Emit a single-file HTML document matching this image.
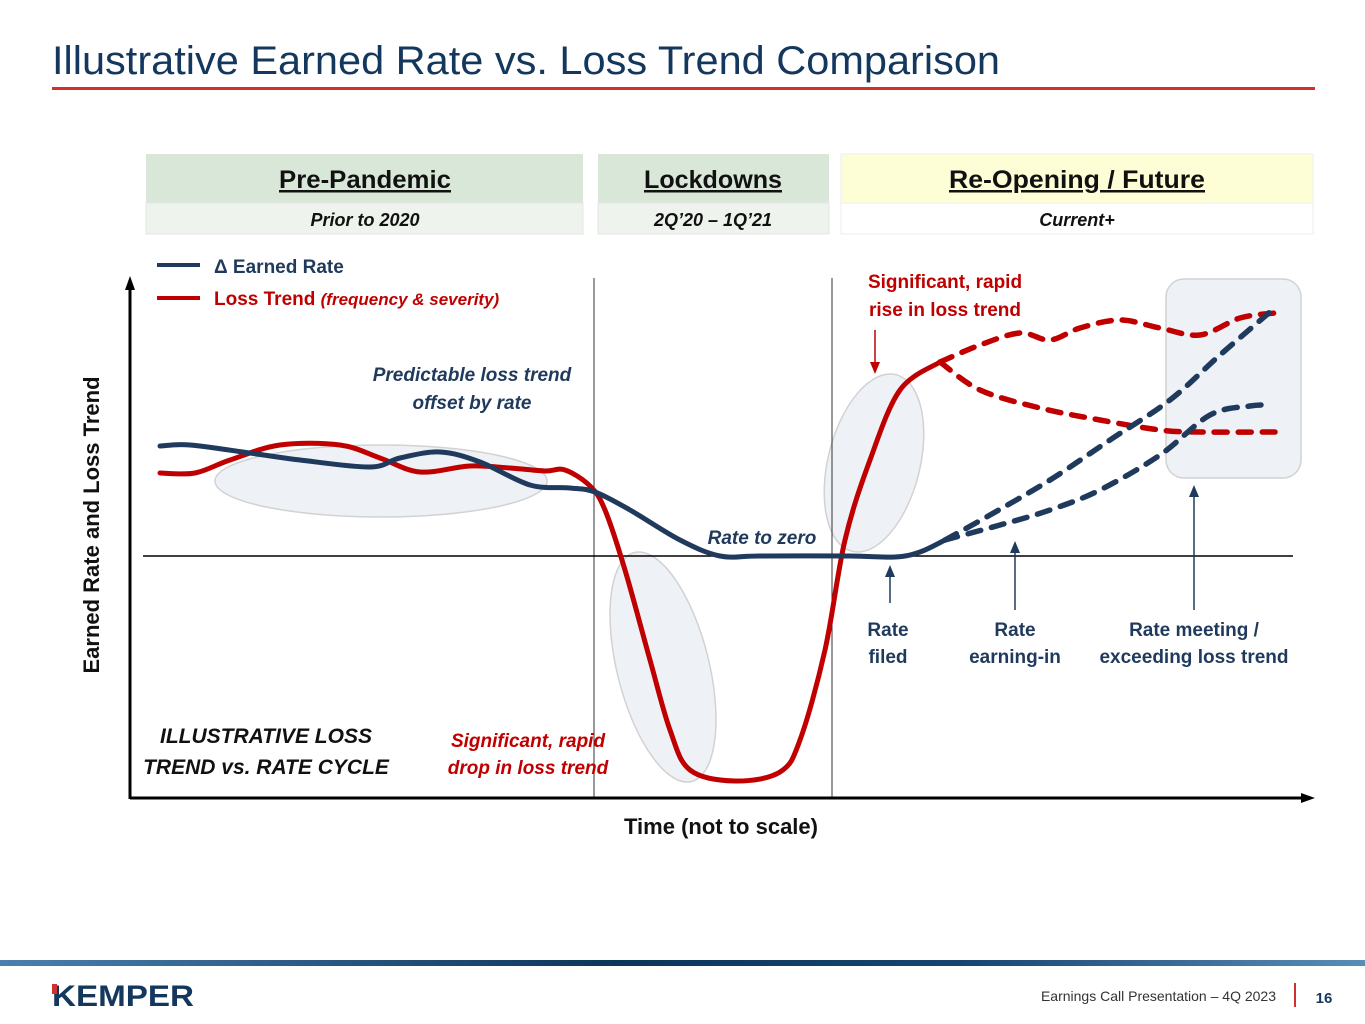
<!DOCTYPE html>
<html><head><meta charset="utf-8"><style>
body{margin:0;background:#fff;}
svg{display:block;font-family:"Liberation Sans",sans-serif;}
</style></head><body>
<svg id="chart" width="1365" height="1024" viewBox="0 0 1365 1024">
<defs>
<linearGradient id="fg" x1="0" x2="1"><stop offset="0" stop-color="#4a7fae"/><stop offset="0.45" stop-color="#0d3559"/><stop offset="0.7" stop-color="#15456f"/><stop offset="1" stop-color="#5a8cb8"/></linearGradient>
<marker id="ab" markerUnits="userSpaceOnUse" markerWidth="12" markerHeight="12" refX="9" refY="6" orient="auto"><path d="M0,1 L12,6 L0,11 z" fill="#1f3a5c"/></marker>
<marker id="ar" markerUnits="userSpaceOnUse" markerWidth="12" markerHeight="12" refX="9" refY="6" orient="auto"><path d="M0,1 L12,6 L0,11 z" fill="#c00000"/></marker>
<marker id="ak" markerUnits="userSpaceOnUse" markerWidth="14" markerHeight="12" refX="10" refY="6" orient="auto"><path d="M0,1 L14,6 L0,11 z" fill="#000"/></marker>
</defs>
<text x="52" y="74" font-size="40" fill="#14375e" textLength="948" lengthAdjust="spacingAndGlyphs">Illustrative Earned Rate vs. Loss Trend Comparison</text>
<rect x="52" y="87" width="1263" height="3" fill="#d0312d"/>

<g>
<rect x="146" y="154" width="437" height="49" fill="#d9e7d8"/>
<rect x="146" y="203" width="437" height="31" fill="#eef4ed" stroke="#e4e4e4"/>
<rect x="598" y="154" width="231" height="49" fill="#d9e7d8"/>
<rect x="598" y="203" width="231" height="31" fill="#eef4ed" stroke="#e4e4e4"/>
<rect x="841" y="154" width="472" height="49" fill="#fdfdd6" stroke="#eee"/>
<rect x="841" y="203" width="472" height="31" fill="#fff" stroke="#eee"/>
<g font-weight="bold" font-size="25" fill="#111" text-anchor="middle" text-decoration="underline">
<text x="365" y="188" textLength="172" lengthAdjust="spacingAndGlyphs">Pre-Pandemic</text>
<text x="713" y="188" textLength="138" lengthAdjust="spacingAndGlyphs">Lockdowns</text>
<text x="1077" y="188" textLength="256" lengthAdjust="spacingAndGlyphs">Re-Opening / Future</text>
</g>
<g font-weight="bold" font-style="italic" font-size="18" fill="#111" text-anchor="middle">
<text x="365" y="226">Prior to 2020</text>
<text x="713" y="226">2Q’20 – 1Q’21</text>
<text x="1077" y="226">Current+</text>
</g>
</g>

<g>
<line x1="157" y1="265" x2="200" y2="265" stroke="#1f3a5c" stroke-width="4"/>
<text x="214" y="273" font-size="19" font-weight="bold" fill="#1f3a5c">Δ Earned Rate</text>
<line x1="157" y1="298" x2="200" y2="298" stroke="#c00000" stroke-width="4"/>
<text x="214" y="305" font-size="19" font-weight="bold" fill="#c00000">Loss Trend <tspan font-style="italic" font-size="17">(frequency &amp; severity)</tspan></text>
</g>

<g>
<ellipse cx="381" cy="481" rx="166" ry="36" fill="#eef1f5" stroke="#d2d2d2" stroke-width="1.5"/>
<ellipse cx="663" cy="667" rx="46" ry="118" transform="rotate(-14 663 667)" fill="#eef1f5" stroke="#d2d2d2" stroke-width="1.5"/>
<ellipse cx="874" cy="463" rx="46" ry="91" transform="rotate(14 874 463)" fill="#eef1f5" stroke="#d2d2d2" stroke-width="1.5"/>
<rect x="1166" y="279" width="135" height="199" rx="18" fill="#eef1f5" stroke="#d2d2d2" stroke-width="1.5"/>
</g>

<g>
<line x1="594" y1="278" x2="594" y2="798" stroke="#333" stroke-width="1"/>
<line x1="832" y1="278" x2="832" y2="798" stroke="#333" stroke-width="1"/>
<line x1="143" y1="556" x2="1293" y2="556" stroke="#000" stroke-width="1.5"/>
<line x1="130" y1="799" x2="130" y2="280" stroke="#000" stroke-width="3" marker-end="url(#ak)"/>
<line x1="130" y1="798" x2="1311" y2="798" stroke="#000" stroke-width="3" marker-end="url(#ak)"/>
<text x="99" y="525" font-size="22" font-weight="bold" fill="#111" text-anchor="middle" transform="rotate(-90 99 525)">Earned Rate and Loss Trend</text>
<text x="721" y="834" font-size="22" font-weight="bold" fill="#111" text-anchor="middle">Time (not to scale)</text>
</g>

<g id="series"></g>

<g font-weight="bold" font-size="19" text-anchor="middle">
<text x="472" y="381" fill="#1f3a5c" font-style="italic">Predictable loss trend</text>
<text x="472" y="409" fill="#1f3a5c" font-style="italic">offset by rate</text>
<text x="762" y="544" fill="#1f3a5c" font-style="italic">Rate to zero</text>
<text x="528" y="747" fill="#c00000" font-style="italic">Significant, rapid</text>
<text x="528" y="774" fill="#c00000" font-style="italic">drop in loss trend</text>
<text x="945" y="288" fill="#c00000">Significant, rapid</text>
<text x="945" y="316" fill="#c00000">rise in loss trend</text>
<line x1="875" y1="330" x2="875" y2="371" stroke="#c00000" stroke-width="1.5" marker-end="url(#ar)"/>
<text x="888" y="636" fill="#1f3a5c">Rate</text><text x="888" y="663" fill="#1f3a5c">filed</text>
<line x1="890" y1="603" x2="890" y2="568" stroke="#1f3a5c" stroke-width="1.5" marker-end="url(#ab)"/>
<text x="1015" y="636" fill="#1f3a5c">Rate</text><text x="1015" y="663" fill="#1f3a5c">earning-in</text>
<line x1="1015" y1="610" x2="1015" y2="544" stroke="#1f3a5c" stroke-width="1.5" marker-end="url(#ab)"/>
<text x="1194" y="636" fill="#1f3a5c">Rate meeting /</text><text x="1194" y="663" fill="#1f3a5c">exceeding loss trend</text>
<line x1="1194" y1="610" x2="1194" y2="488" stroke="#1f3a5c" stroke-width="1.5" marker-end="url(#ab)"/>
<text x="266" y="743" fill="#111" font-style="italic" font-size="21">ILLUSTRATIVE LOSS</text>
<text x="266" y="774" fill="#111" font-style="italic" font-size="21">TREND vs. RATE CYCLE</text>
</g>

<g>
<rect x="0" y="960" width="1365" height="6" fill="url(#fg)"/>
<text x="52" y="1006" font-size="30" font-weight="bold" fill="#14375e" textLength="142" lengthAdjust="spacingAndGlyphs">KEMPER</text>
<rect x="52" y="984" width="5" height="10" fill="#d0312d"/>
<text x="1276" y="1001" font-size="14" fill="#333" text-anchor="end">Earnings Call Presentation – 4Q 2023</text>
<rect x="1294" y="983" width="2" height="24" fill="#d0312d"/>
<text x="1324" y="1003" font-size="15" font-weight="bold" fill="#14375e" text-anchor="middle">16</text>
</g>
</svg>
<script>
// time units (0..1180) and value units relative to zero line
const rateTime = [30,60,120,170,240,270,310,350,400,440,465,500,550,590,630,720,765,790,815];
const rateVals = [110,111,103,96,89,98,104,94,71,68,64,46,16,0,0,0,-1,4,16];
const rateFastTime = [815,860,920,980,1040,1090,1140];
const rateFastVals = [16,41,76,116,156,201,244];
const rateSlowTime = [815,870,920,970,1030,1080,1120,1138];
const rateSlowVals = [16,31,46,66,101,141,150,151];
const lossTime = [30,65,100,150,210,250,290,340,380,415,435,460,475,495,520,540,560,605,650,670,695,715,740,770,810];
const lossVals = [83,83,96,111,111,98,84,90,88,85,86,70,46,-14,-104,-174,-214,-225,-216,-184,-94,16,96,166,194];
const lossHighTime = [810,850,890,920,950,990,1030,1070,1110,1145];
const lossHighVals = [194,211,223,216,228,236,228,221,238,243];
const lossLowTime = [810,850,910,970,1030,1070,1145];
const lossLowVals = [194,166,148,136,126,124,124];

const xS = t => 130 + t;
const yS = v => 556 - v;
function pathFrom(ts, vs){
  const p = ts.map((t,i)=>[xS(t), yS(vs[i])]);
  let d = `M${p[0][0]},${p[0][1]}`;
  for(let i=0;i<p.length-1;i++){
    const p0=p[Math.max(i-1,0)], p1=p[i], p2=p[i+1], p3=p[Math.min(i+2,p.length-1)];
    const c1=[p1[0]+(p2[0]-p0[0])/6, p1[1]+(p2[1]-p0[1])/6];
    const c2=[p2[0]-(p3[0]-p1[0])/6, p2[1]-(p3[1]-p1[1])/6];
    d += ` C${c1[0]},${c1[1]} ${c2[0]},${c2[1]} ${p2[0]},${p2[1]}`;
  }
  return d;
}
const g = document.getElementById('series');
function add(ts, vs, color, dashed, name){
  const el = document.createElementNS('http://www.w3.org/2000/svg','path');
  el.setAttribute('d', pathFrom(ts, vs));
  el.setAttribute('fill','none');
  el.setAttribute('stroke', color);
  el.setAttribute('stroke-width', dashed ? '5.5' : '5');
  el.setAttribute('stroke-linecap','round');
  if(dashed) el.setAttribute('stroke-dasharray','13 11');
  
  
  g.appendChild(el);
}
add(lossTime, lossVals, '#c00000', false, 'loss-trend-line');
add(lossHighTime, lossHighVals, '#c00000', true, 'loss-trend-high-projection');
add(lossLowTime, lossLowVals, '#c00000', true, 'loss-trend-low-projection');
add(rateTime, rateVals, '#1f3a5c', false, 'earned-rate-line');
add(rateFastTime, rateFastVals, '#1f3a5c', true, 'earned-rate-fast-projection');
add(rateSlowTime, rateSlowVals, '#1f3a5c', true, 'earned-rate-slow-projection');
</script>
</body></html>
